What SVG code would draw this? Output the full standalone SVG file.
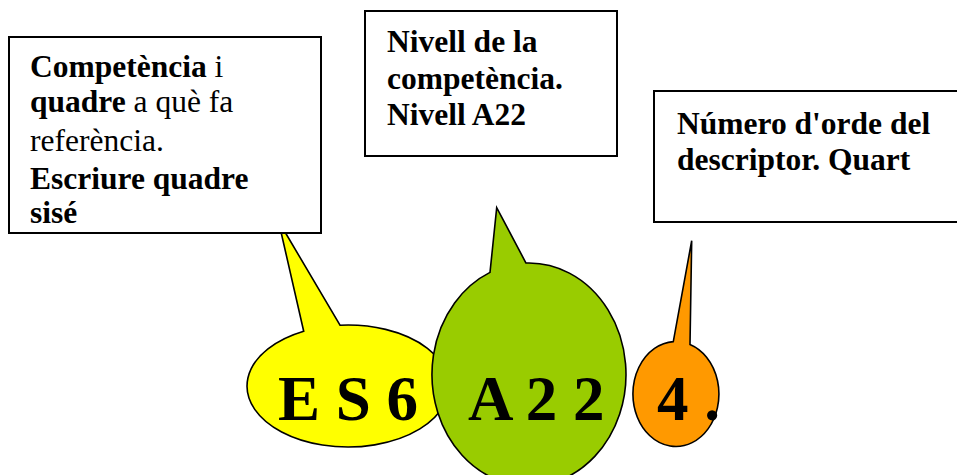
<svg xmlns="http://www.w3.org/2000/svg" width="957" height="475" viewBox="0 0 957 475">
<style>
.box{fill:#fff;stroke:#000;stroke-width:2}
.bub{stroke:#000;stroke-width:1.6;stroke-linejoin:miter}
.t{font-family:"Liberation Serif","Times New Roman",serif;font-size:31.5px;fill:#000}
.b{font-weight:bold}
.n{font-weight:normal}
.big{font-family:"Liberation Serif","Times New Roman",serif;font-size:63px;font-weight:bold;fill:#000}
</style>
<rect width="957" height="475" fill="#fff"/>
<g id="bubble-es6">
<path class="bub" fill="#FFFF00" d="M340,325.2 L278.5,221 L303.7,331.2 A101 61 0 1 0 340,325.2 Z"/>
</g>
<g id="bubble-a22">
<path class="bub" fill="#99CC00" d="M526,263.05 L496.7,207.7 L490,272.4 A97 111.5 0 1 0 526,263.05 Z"/>
</g>
<g id="bubble-4">
<path class="bub" fill="#FF9900" d="M690,344.4 L691.7,240.7 L673.3,341.6 A43 52.5 0 1 0 690,344.4 Z"/>
</g>
<g id="box-competencia">
<rect class="box" x="9" y="37" width="312" height="196"/>
<text class="t" x="30" y="77"><tspan class="b">Competència</tspan><tspan class="n"> i</tspan></text>
<text class="t" x="30" y="112"><tspan class="b">quadre</tspan><tspan class="n"> a què fa</tspan></text>
<text class="t n" x="30" y="151">referència.</text>
<text class="t b" x="30" y="189">Escriure quadre</text>
<text class="t b" x="30" y="223">sisé</text>
</g>
<g id="box-nivell">
<rect class="box" x="365" y="11" width="252" height="145"/>
<text class="t b" x="387" y="52">Nivell de la</text>
<text class="t b" x="387" y="89">competència.</text>
<text class="t b" x="387" y="125">Nivell A22</text>
</g>
<g id="box-numero">
<rect class="box" x="654" y="91" width="320" height="131"/>
<text class="t b" x="677" y="134">Número d'orde del</text>
<text class="t b" x="677" y="170">descriptor. Quart</text>
</g>
<g id="labels">
<text class="big" x="278" y="420">E S 6</text>
<text class="big" x="468" y="420">A 2 2</text>
<text class="big" x="657" y="420">4 .</text>
</g>
<g id="connectors"></g>
</svg>
